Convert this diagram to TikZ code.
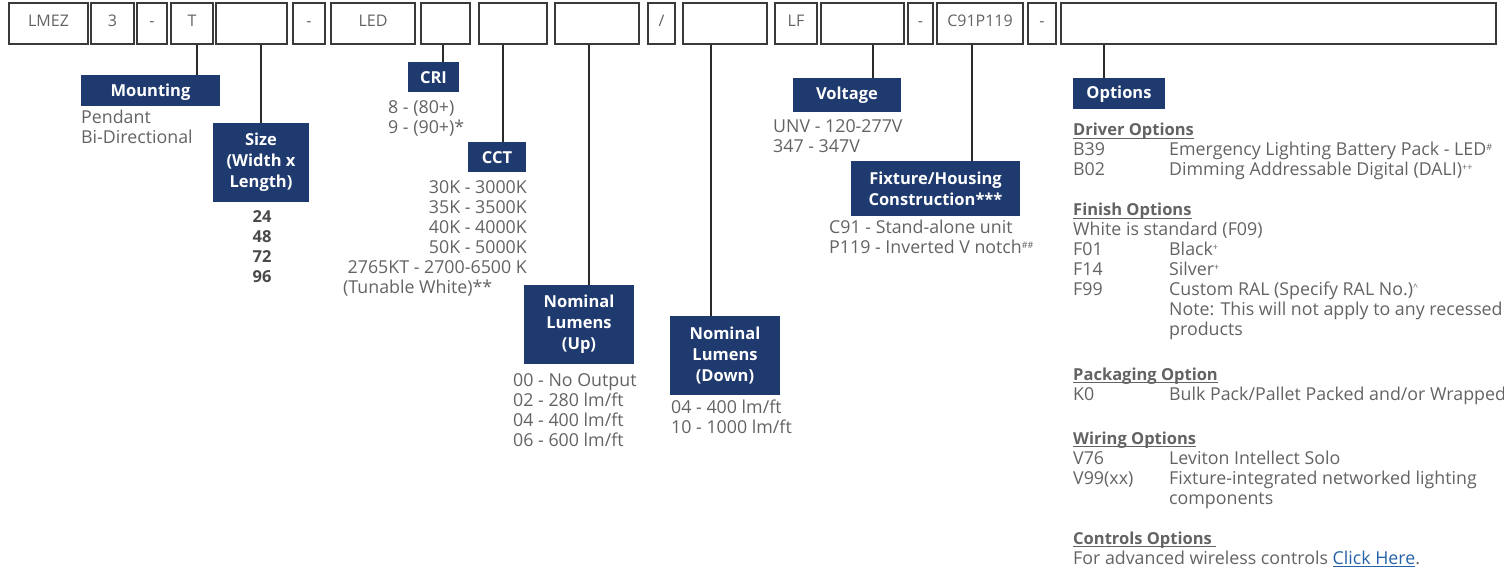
\documentclass[tikz,border=0pt]{standalone}
\usepackage{fontspec}
\setmainfont{Open Sans}
\definecolor{navy}{HTML}{1F3A6E}
\definecolor{txtgray}{HTML}{636363}
\definecolor{numgray}{HTML}{4A4A4A}
\definecolor{boxline}{HTML}{3A3A3A}
\definecolor{connline}{HTML}{2A2A2A}
\definecolor{linkblue}{HTML}{2563A8}
\newsavebox\hdbox
\newcommand\ulx[1]{\sbox\hdbox{#1}\rlap{\rule[-2.6pt]{\wd\hdbox}{0.9pt}}\usebox\hdbox}
\newcommand\hd[1]{{\fontsize{16.5}{20}\selectfont\ulx{\textbf{#1}}}}
\newcommand\cd[2]{\makebox[96pt][l]{#1}#2}
\newcommand\sups[1]{\raisebox{5.5pt}{\fontsize{9}{9}\selectfont #1}}
\newcommand\mkbox[4]{%
  \node[codebox, minimum width={#3-#2}, minimum height=41pt] (#1) at ({(#2+#3)/2},23.5) {};
  \node[codetxt] at ({(#2+#3)/2},27) {#4};
}
\newcommand\mklabel[7][]{%
  \node[navybox, minimum width={#5-#3}, minimum height={#6-#4}, #1] (#2) at ({(#3+#5)/2},{(#4+#6)/2}) {#7};
}
\tikzset{
  codebox/.style={draw=boxline, line width=1.1pt, inner sep=0pt},
  codetxt/.style={text=txtgray, font=\fontsize{16}{20}\selectfont, anchor=base, inner sep=0pt},
  navybox/.style={fill=navy, text=white, font=\bfseries\fontsize{16.5}{21}\selectfont, align=center, inner sep=0pt},
  oneline/.style={text height=13pt, text depth=0pt},
  body/.style={text=txtgray, font=\fontsize{17.8}{20}\selectfont, inner sep=0pt},
  conn/.style={draw=connline, line width=1.4pt},
}
\begin{document}
\begin{tikzpicture}[x=1pt,y=-1pt]
\useasboundingbox (0,0) rectangle (1504,569);
% top code boxes
\mkbox{b1}{9}{88}{LMEZ}
\mkbox{b2}{91}{134}{3}
\mkbox{b3}{137}{167}{-}
\mkbox{b4}{171}{213}{T}
\mkbox{b5}{216}{287}{}
\mkbox{b6}{293}{325}{-}
\mkbox{b7}{331}{415}{LED}
\mkbox{b8}{421}{470}{}
\mkbox{b9}{479}{547}{}
\mkbox{b10}{555}{639}{}
\mkbox{b11}{648}{675}{/}
\mkbox{b12}{683}{767}{}
\mkbox{b13}{775}{817}{LF}
\mkbox{b14}{821}{904}{}
\mkbox{b15}{908}{933}{-}
\mkbox{b16}{937}{1023}{C91P119}
\mkbox{b17}{1028}{1056}{-}
\mkbox{b18}{1061}{1496}{}
% label boxes
\mklabel[oneline]{mount}{81}{75}{220}{106}{Mounting}
\mklabel{size}{213}{123}{309}{202}{Size\\(Width x\\Length)}
\mklabel[oneline]{cri}{408}{62}{459}{92}{CRI}
\mklabel[oneline]{cct}{468}{142}{526}{172}{CCT}
\mklabel{up}{524}{285}{634}{364}{Nominal\\Lumens\\(Up)}
\mklabel{down}{670}{316}{780}{395}{Nominal\\Lumens\\(Down)}
\mklabel[text height=9pt, text depth=0pt]{volt}{793}{78}{901}{112}{Voltage}
\mklabel{fix}{851}{161}{1020}{216}{Fixture/Housing\\Construction***}
\mklabel[text height=11pt, text depth=0pt]{opt}{1073}{78}{1165}{109}{Options}
% connectors
\coordinate (k1) at (197,0);
\coordinate (k2) at (261,0);
\coordinate (k3) at (443,0);
\coordinate (k4) at (503,0);
\coordinate (k5) at (589,0);
\coordinate (k6) at (711,0);
\coordinate (k7) at (873,0);
\coordinate (k8) at (972,0);
\coordinate (k9) at (1104,0);
\draw[conn] (b4.south -| k1) -- (mount.north -| k1);
\draw[conn] (b5.south -| k2) -- (size.north -| k2);
\draw[conn] (b8.south -| k3) -- (cri.north -| k3);
\draw[conn] (b9.south -| k4) -- (cct.north -| k4);
\draw[conn] (b10.south -| k5) -- (up.north -| k5);
\draw[conn] (b12.south -| k6) -- (down.north -| k6);
\draw[conn] (b14.south -| k7) -- (volt.north -| k7);
\draw[conn] (b16.south -| k8) -- (fix.north -| k8);
\draw[conn] (b18.south -| k9) -- (opt.north -| k9);
% texts
\node[body, anchor=base west] (tmount) at (81,124) {\begin{tabular}[t]{@{}l@{}}Pendant\\Bi-Directional\end{tabular}};
\node[body, anchor=base, text=numgray, font=\bfseries\fontsize{16.5}{20}\selectfont] (tsize) at (262,223) {\begin{tabular}[t]{@{}c@{}}24\\48\\72\\96\end{tabular}};
\node[body, anchor=base west] (tcri) at (388,114) {\begin{tabular}[t]{@{}l@{}}8 - (80+)\\9 - (90+)*\end{tabular}};
\node[body, anchor=base east] (tcct) at (527,194) {\begin{tabular}[t]{@{}r@{}}30K - 3000K\\35K - 3500K\\40K - 4000K\\50K - 5000K\\2765KT - 2700-6500 K\end{tabular}};
\node[body, anchor=base west] (tcct2) at (343,294) {(Tunable White)**};
\node[body, anchor=base west] (tup) at (513,386) {\begin{tabular}[t]{@{}l@{}}00 - No Output\\02 - 280 lm/ft\\04 - 400 lm/ft\\06 - 600 lm/ft\end{tabular}};
\node[body, anchor=base west] (tdown) at (671,413) {\begin{tabular}[t]{@{}l@{}}04 - 400 lm/ft\\10 - 1000 lm/ft\end{tabular}};
\node[body, anchor=base west] (tvolt) at (773,133) {\begin{tabular}[t]{@{}l@{}}UNV - 120-277V\\347 - 347V\end{tabular}};
\node[body, anchor=base west] (tfix) at (829,234) {\begin{tabular}[t]{@{}l@{}}C91 - Stand-alone unit\\P119 - Inverted V notch\sups{\#\#}\end{tabular}};
\node[body, anchor=base west] (tdrv) at (1073,136) {\begin{tabular}[t]{@{}l@{}}\hd{Driver Options}\\
\cd{B39}{Emergency Lighting Battery Pack - LED\sups{\#}}\\
\cd{B02}{Dimming Addressable Digital (DALI)\sups{++}}\end{tabular}};
\node[body, anchor=base west] (tfin) at (1073,216) {\begin{tabular}[t]{@{}l@{}}\hd{Finish Options}\\
White is standard (F09)\\
\cd{F01}{Black\sups{+}}\\
\cd{F14}{Silver\sups{+}}\\
\cd{F99}{Custom RAL (Specify RAL No.)\sups{\string^}}\\
\cd{}{Note: This will not apply to any recessed}\\
\cd{}{products}\end{tabular}};
\node[body, anchor=base west] (tpack) at (1073,380) {\begin{tabular}[t]{@{}l@{}}\hd{Packaging Option}\\
\cd{K0}{Bulk Pack/Pallet Packed and/or Wrapped}\end{tabular}};
\node[body, anchor=base west] (twir) at (1073,444) {\begin{tabular}[t]{@{}l@{}}\hd{Wiring Options}\\
\cd{V76}{Leviton Intellect Solo}\\
\cd{V99(xx)}{Fixture-integrated networked lighting}\\
\cd{}{components}\end{tabular}};
\node[body, anchor=base west] (tctl) at (1073,544) {\begin{tabular}[t]{@{}l@{}}\hd{Controls Options\ }\\
For advanced wireless controls \textcolor{linkblue}{\ulx{Click Here}}.\end{tabular}};
\end{tikzpicture}
\end{document}
